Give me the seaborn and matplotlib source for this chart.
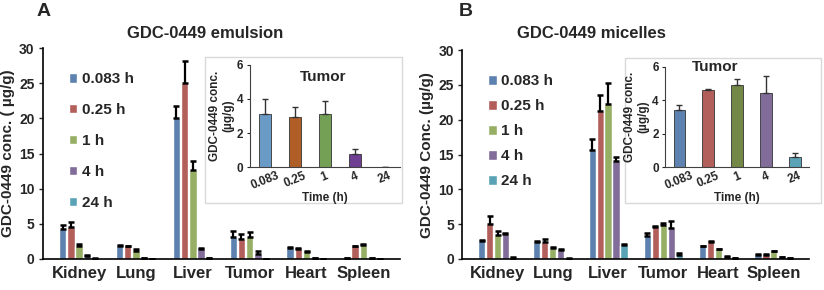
import numpy as np
import pandas as pd
import matplotlib
matplotlib.use("Agg")
import matplotlib.pyplot as plt
import seaborn as sns
from matplotlib.patches import Rectangle

sns.set_style("white")
plt.rcParams["font.family"] = ["Liberation Sans", "DejaVu Sans"]
plt.rcParams["font.weight"] = "bold"
plt.rcParams["axes.labelweight"] = "bold"

organs = ["Kidney", "Lung", "Liver", "Tumor", "Heart", "Spleen"]
times = ["0.083 h", "0.25 h", "1 h", "4 h", "24 h"]
inset_ticks = ["0.083", "0.25", "1", "4", "24"]

# emulsion: rows = time points, columns = organs
emu_mean = [
    [4.3, 1.9, 20.0, 3.1, 1.6, 0.1],
    [4.6, 1.8, 25.0, 2.9, 1.4, 1.8],
    [1.8, 1.2, 12.7, 3.1, 1.0, 2.0],
    [0.4, 0.1, 1.4, 0.7, 0.1, 0.1],
    [0.05, 0.03, 0.1, 0.03, 0.03, 0.03],
]
emu_err = [
    [0.5, 0.1, 1.7, 0.9, 0.1, 0.05],
    [0.7, 0.1, 3.1, 0.6, 0.1, 0.1],
    [0.3, 0.2, 1.3, 0.8, 0.1, 0.1],
    [0.2, 0.05, 0.2, 0.4, 0.05, 0.05],
    [0.02, 0.02, 0.05, 0.02, 0.02, 0.02],
]
# micelles
mic_mean = [
    [2.6, 2.4, 15.6, 3.3, 1.8, 0.6],
    [5.0, 2.5, 21.2, 4.6, 2.5, 0.6],
    [3.5, 1.6, 22.3, 4.9, 1.4, 1.1],
    [3.6, 1.3, 14.1, 4.4, 0.3, 0.3],
    [0.2, 0.05, 2.0, 0.6, 0.1, 0.1],
]
mic_err = [
    [0.1, 0.2, 1.7, 0.4, 0.1, 0.1],
    [1.2, 0.3, 2.4, 0.1, 0.1, 0.1],
    [0.5, 0.1, 3.0, 0.3, 0.1, 0.1],
    [0.2, 0.1, 0.6, 1.0, 0.1, 0.05],
    [0.05, 0.02, 0.2, 0.3, 0.05, 0.05],
]
# tumor insets
emu_tumor = [3.1, 2.95, 3.1, 0.78, 0.02]
emu_tumor_err = [0.9, 0.6, 0.8, 0.3, 0.0]
mic_tumor = [3.4, 4.65, 4.9, 4.45, 0.62]
mic_tumor_err = [0.3, 0.05, 0.35, 1.0, 0.22]

main_colors = ["#4F81BD", "#C0504D", "#9BBB59", "#8064A2", "#4BACC6"]
inset_colors_a = ["#5B9BD5", "#C55A11", "#70AD47", "#7030A0", "#4BACC6"]
inset_colors_b = ["#4F81BD", "#C0504D", "#77933C", "#8064A2", "#4BACC6"]


def long_table(mean, err):
    rows = []
    for i, t in enumerate(times):
        for j, o in enumerate(organs):
            rows.append({"organ": o, "time": t, "conc": mean[i][j], "err": err[i][j]})
    return pd.DataFrame(rows)


def main_panel(ax, mean, err, ylabel, legend_space):
    df = long_table(mean, err)
    sns.barplot(data=df, x="organ", y="conc", hue="time", order=organs,
                hue_order=times, palette=main_colors, errorbar=None,
                width=0.72, gap=0.1, ax=ax)
    bar_groups = list(ax.containers)
    for i, cont in enumerate(bar_groups):
        xs = [b.get_x() + b.get_width() / 2 for b in cont.patches]
        hs = [b.get_height() for b in cont.patches]
        e = err[i]
        ax.errorbar(xs, hs, yerr=[np.zeros(len(e)), e], fmt="none",
                    ecolor="black", elinewidth=1.6, capsize=2.5, capthick=1.8)
    ax.set_ylim(0, 30)
    ax.set_yticks(range(0, 31, 5))
    ax.set_xlabel("")
    ax.set_ylabel(ylabel, fontsize=11, labelpad=3)
    sns.despine(ax=ax)
    for s in ["left", "bottom"]:
        ax.spines[s].set_color("black")
        ax.spines[s].set_linewidth(1.2)
    ax.tick_params(axis="y", left=True, length=3, width=1, labelsize=10, pad=3)
    ax.tick_params(axis="x", length=0, labelsize=12, pad=5)
    for lb in ax.get_xticklabels() + ax.get_yticklabels():
        lb.set_fontweight("bold")
    ax.legend(loc="upper left", bbox_to_anchor=(0.035, 0.95), frameon=False,
              handlelength=0.55, handleheight=0.55, handletextpad=0.3,
              labelspacing=legend_space, prop={"size": 11, "weight": "bold"})


def inset_panel(fig, box, rect, vals, errs, colors, title_xy):
    fig.patches.append(Rectangle((box[0], box[1]), box[2], box[3],
                                 transform=fig.transFigure, facecolor="white",
                                 edgecolor="#d9d9d9", linewidth=1, zorder=2))
    ax = fig.add_axes(rect, zorder=3)
    ax.patch.set_alpha(0)
    d = pd.DataFrame({"time": inset_ticks, "conc": vals})
    sns.barplot(data=d, x="time", y="conc", hue="time", order=inset_ticks,
                hue_order=inset_ticks, palette=colors, errorbar=None,
                width=0.4, legend=False, edgecolor="#333333", linewidth=0.6, ax=ax)
    ax.errorbar(range(len(vals)), vals, yerr=[np.zeros(len(errs)), errs],
                fmt="none", ecolor="#333333", elinewidth=1, capsize=2, capthick=1)
    ax.set_ylim(0, 6)
    ax.set_yticks([0, 2, 4, 6])
    ax.set_xlim(-0.5, 4.5)
    sns.despine(ax=ax)
    ax.spines["left"].set_color("#404040")
    ax.spines["bottom"].set_color("#404040")
    ax.tick_params(axis="y", left=True, length=2.5, labelsize=8.5, pad=2)
    ax.tick_params(axis="x", length=0, labelsize=8.5, pad=2)
    plt.setp(ax.get_xticklabels(), rotation=22, fontweight="bold")
    plt.setp(ax.get_yticklabels(), fontweight="bold")
    ax.set_xlabel("Time (h)", fontsize=8.5, labelpad=0)
    ax.set_ylabel("GDC-0449 conc.\n(µg/g)", fontsize=8.5, labelpad=2, linespacing=1.1)
    ax.text(title_xy[0], title_xy[1], "Tumor", transform=ax.transAxes,
            ha="center", va="center", fontsize=11, fontweight="bold")


fig = plt.figure(figsize=(8.24, 2.90), dpi=100)
ax_a = fig.add_axes([0.052, 0.107, 0.433, 0.727])
ax_b = fig.add_axes([0.561, 0.107, 0.421, 0.720])

main_panel(ax_a, emu_mean, emu_err, "GDC-0449 conc. ( µg/g)", 1.1)
main_panel(ax_b, mic_mean, mic_err, "GDC-0449 Conc. (µg/g)", 0.72)

inset_panel(fig, (0.249, 0.30, 0.239, 0.503), [0.303, 0.424, 0.182, 0.352],
            emu_tumor, emu_tumor_err, inset_colors_a, (0.49, 0.88))
inset_panel(fig, (0.758, 0.30, 0.238, 0.50), [0.807, 0.424, 0.175, 0.345],
            mic_tumor, mic_tumor_err, inset_colors_b, (0.35, 1.0))

fig.text(0.249, 0.886, "GDC-0449 emulsion", ha="center", va="center",
         fontsize=12, fontweight="bold")
fig.text(0.718, 0.886, "GDC-0449 micelles", ha="center", va="center",
         fontsize=12, fontweight="bold")
fig.text(0.044, 0.99, "A", ha="left", va="top", fontsize=14, fontweight="bold")
fig.text(0.557, 0.99, "B", ha="left", va="top", fontsize=14, fontweight="bold")

fig.savefig("out.png", dpi=100)
